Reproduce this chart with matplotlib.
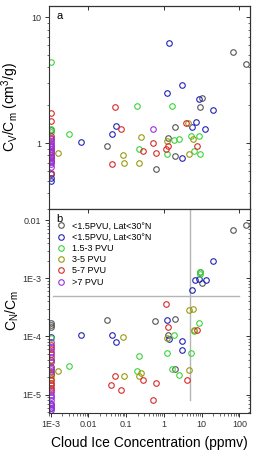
import matplotlib
matplotlib.use('Agg')
import matplotlib.pyplot as plt
from matplotlib.ticker import NullFormatter, LogLocator

plt.rcParams['font.family'] = ['Liberation Sans', 'DejaVu Sans']

labels = ['<1.5PVU, Lat<30°N', '<1.5PVU, Lat<30°N', '1.5-3 PVU', '3-5 PVU', '5-7 PVU', '>7 PVU']
colors = ['#555555', '#2323b8', '#3ad43a', '#9a9a10', '#d82a2a', '#9a30e0']

# panel a: Cv/Cm
gray_a_x = [67, 148, 0.031, 0.6, 1.32, 1.98, 1.95, 9.1, 10.1, 0.001]
gray_a_y = [5.27, 4.24, 0.95, 0.625, 1.1, 1.35, 0.79, 1.95, 2.29, 1.28]
blue_a_x = [1.4, 1.24, 3.1, 8.6, 19.8, 12.6, 6.9, 5.7, 3.04, 0.054, 0.043, 0.0064, 0.001, 0.001, 0.001]
blue_a_y = [6.3, 2.52, 2.89, 2.25, 1.84, 1.29, 1.47, 1.35, 0.76, 1.37, 1.19, 1.02, 0.50, 0.53, 0.57]
green_a_x = [0.001, 0.0031, 0.198, 1.68, 0.216, 1.24, 1.9, 2.58, 5.3, 8.4, 6.2, 9.3, 0.001, 0.001]
green_a_y = [4.42, 1.18, 1.98, 1.98, 0.90, 0.82, 1.06, 1.08, 1.13, 1.13, 0.87, 0.82, 1.30, 1.22]
olive_a_x = [0.0016, 0.084, 0.088, 0.22, 0.244, 1.24, 4.57, 5.85, 4.4, 0.001, 0.001, 0.001]
olive_a_y = [0.84, 0.81, 0.70, 0.70, 1.12, 1.05, 0.82, 1.07, 1.45, 0.9, 0.8, 0.72]
red_a_x = [0.052, 0.072, 0.041, 0.286, 0.52, 0.60, 1.12, 1.27, 3.95, 7.5,
           0.001, 0.001, 0.001, 0.001, 0.001, 0.001, 0.001, 0.001, 0.001, 0.001]
red_a_y = [1.93, 1.30, 0.68, 0.87, 1.0, 0.83, 0.90, 0.95, 1.44, 0.95,
           1.75, 1.51, 1.15, 1.08, 0.95, 0.85, 0.78, 0.76, 0.72, 0.58]
purple_a_x = [0.52] + [0.001] * 14
purple_a_y = [1.30, 1.1, 1.05, 1.0, 0.97, 0.93, 0.9, 0.87, 0.83, 0.8, 0.77, 0.74, 0.71, 0.68, 0.65]

# panel b: CN/Cm
gray_b_x = [67, 148, 0.031, 0.58, 1.98, 1.32, 1.98, 10.1, 9.1, 0.001, 0.001, 0.001]
gray_b_y = [6.8e-3, 8.2e-3, 1.89e-4, 1.84e-4, 1.97e-4, 1.05e-4, 2.78e-5, 8.45e-4, 1.27e-3, 1.7e-4, 1.55e-4, 1.45e-4]
blue_b_x = [19.4, 6.6, 8.6, 12.9, 5.6, 1.24, 1.4, 3.1, 3.0, 0.0064, 0.043, 0.053, 0.001, 0.001, 0.001]
blue_b_y = [2.0e-3, 9.5e-4, 9.6e-4, 9.4e-4, 6.3e-4, 1.89e-4, 9.2e-5, 8.3e-5, 5.8e-5, 1.05e-4, 1.08e-4, 8.1e-5, 9.8e-5, 6e-6, 7e-6]
green_b_x = [0.0031, 0.216, 0.198, 1.24, 1.9, 1.65, 2.53, 5.3, 8.4, 6.2, 9.1, 9.1, 0.001, 0.001, 0.001]
green_b_y = [3.05e-5, 4.6e-5, 2.6e-5, 5.2e-5, 1.04e-4, 2.78e-5, 2.14e-5, 5.2e-5, 1.73e-4, 1.26e-4, 1.27e-3, 1.17e-3, 9.5e-5, 4e-5, 3e-5]
olive_b_x = [0.0016, 0.084, 0.088, 0.216, 0.253, 1.24, 4.57, 5.85, 4.57, 6.1, 0.001, 0.001, 0.001]
olive_b_y = [2.6e-5, 9.8e-5, 2.06e-5, 2.06e-5, 2.38e-5, 9.3e-5, 2.8e-4, 2.95e-4, 2.7e-5, 1.28e-4, 2.5e-5, 2.2e-5, 1.9e-5]
red_b_x = [1.12, 1.27, 7.5, 0.052, 0.040, 0.072, 0.286, 0.60, 0.52, 4.05] + [0.001] * 11
red_b_y = [3.6e-4, 1.45e-4, 1.28e-4, 2.1e-5, 1.48e-5, 1.19e-5, 1.76e-5, 1.58e-5, 8.1e-6, 1.76e-5,
           7e-5, 6e-5, 5e-5, 4e-5, 3e-5, 2.3e-5, 1.8e-5, 1.6e-5, 1.45e-5, 1.3e-5, 1.2e-5]
purple_b_x = [0.001] * 15
purple_b_y = [8e-5, 6.5e-5, 5.5e-5, 4.5e-5, 3.6e-5, 2.8e-5, 2.6e-5, 1.1e-5, 1e-5, 9e-6, 8e-6, 7e-6, 6.5e-6, 6e-6, 5.5e-6]

xticks = [1e-3, 1e-2, 1e-1, 1, 10, 100]
xticklabels = ['1E-3', '0.01', '0.1', '1', '10', '100']
yticks_a = [1, 10]
yticklabels_a = ['1', '10']
yticks_b = [1e-5, 1e-4, 1e-3, 1e-2]
yticklabels_b = ['1E-5', '1E-4', '1E-3', '0.01']

series_a = [(gray_a_x, gray_a_y), (blue_a_x, blue_a_y), (green_a_x, green_a_y),
            (olive_a_x, olive_a_y), (red_a_x, red_a_y), (purple_a_x, purple_a_y)]
series_b = [(gray_b_x, gray_b_y), (blue_b_x, blue_b_y), (green_b_x, green_b_y),
            (olive_b_x, olive_b_y), (red_b_x, red_b_y), (purple_b_x, purple_b_y)]

fig = plt.figure(figsize=(2.54, 4.51), dpi=100)
ax1 = fig.add_axes([0.193, 0.5366, 0.791, 0.4501])
ax2 = fig.add_axes([0.193, 0.0849, 0.791, 0.4517])

for ax, series in [(ax1, series_a), (ax2, series_b)]:
    for (x, y), c, lab in zip(series, colors, labels):
        ax.plot(x, y, linestyle='none', marker='o', markersize=4, markerfacecolor='none',
                markeredgecolor=c, markeredgewidth=0.8, label=lab)
    ax.set_xscale('log')
    ax.set_yscale('log')
    ax.set_xlim(9e-4, 190)
    for s in ax.spines.values():
        s.set_color('#333333')
        s.set_linewidth(0.8)
    ax.tick_params(which='major', direction='out', length=3, width=0.7, labelsize=6.5, pad=2.5, colors='#333333')
    ax.tick_params(which='minor', direction='out', length=1.8, width=0.5, colors='#333333')
    ax.xaxis.set_minor_locator(LogLocator(base=10, subs=range(2, 10), numticks=20))
    ax.yaxis.set_minor_locator(LogLocator(base=10, subs=range(2, 10), numticks=20))
    ax.xaxis.set_minor_formatter(NullFormatter())
    ax.yaxis.set_minor_formatter(NullFormatter())
    ax.set_xticks(xticks)
    # inward ticks on top and right
    for sec in [ax.secondary_xaxis('top'), ax.secondary_yaxis('right')]:
        sec.tick_params(which='major', direction='in', length=3, width=0.7, colors='#333333')
        sec.tick_params(which='minor', direction='in', length=1.8, width=0.5, colors='#333333')
        sec.tick_params(labeltop=False, labelright=False, labelleft=False, labelbottom=False)

ax1.set_ylim(0.3, 12.3)
ax1.set_yticks(yticks_a)
ax1.set_yticklabels(yticklabels_a)
ax1.yaxis.set_minor_formatter(NullFormatter())
ax1.tick_params(labelbottom=False)
ax1.set_ylabel(r'C$_\mathregular{V}$/C$_\mathregular{m}$ (cm$^\mathregular{3}$/g)', fontsize=10)
ax1.yaxis.set_label_coords(-0.14, 0.5)
ax1.text(0.035, 0.975, 'a', transform=ax1.transAxes, fontsize=8, va='top')

ax2.set_ylim(4.9e-6, 0.0155)
ax2.set_yticks(yticks_b)
ax2.set_yticklabels(yticklabels_b)
ax2.yaxis.set_minor_formatter(NullFormatter())
ax2.set_xticklabels(xticklabels)
ax2.set_ylabel(r'C$_\mathregular{N}$/C$_\mathregular{m}$', fontsize=10)
ax2.yaxis.set_label_coords(-0.14, 0.5)
ax2.set_xlabel('Cloud Ice Concentration (ppmv)', fontsize=10, labelpad=5)
ax2.text(0.035, 0.975, 'b', transform=ax2.transAxes, fontsize=8, va='top')

ax2.plot([5, 5], [8e-6, 0.0155], color='#b5b5b5', linewidth=1, zorder=0)
ax2.plot([1.15e-3, 100], [5e-4, 5e-4], color='#b5b5b5', linewidth=1, zorder=0)

ax2.legend(loc='upper left', bbox_to_anchor=(0.0, 0.97), frameon=False, fontsize=6.5,
           handletextpad=0.6, labelspacing=0.25, borderaxespad=0.3, handlelength=1.2)

plt.savefig('out.png', dpi=100)
